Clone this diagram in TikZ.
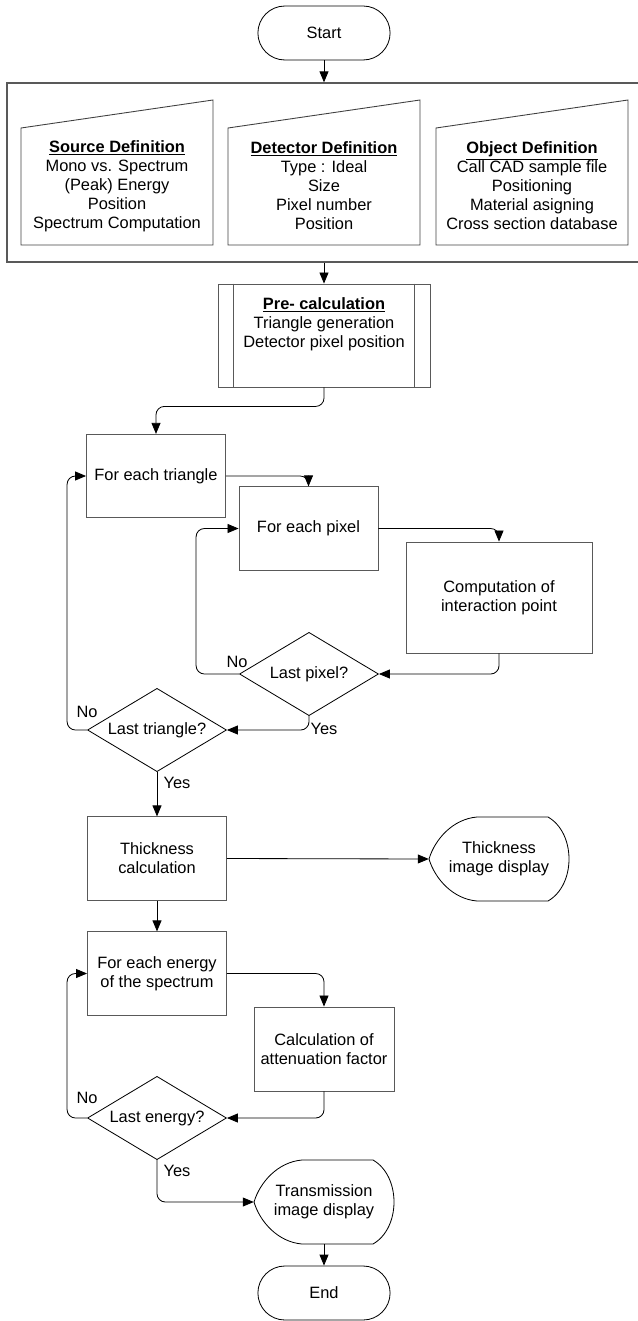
\documentclass[tikz,border=0pt]{standalone}
\usepackage{fontspec}
\setmainfont{Liberation Sans}
\usetikzlibrary{shapes.geometric,shapes.misc,arrows.meta,calc}

\tikzset{
  base/.style={font=\fontsize{14}{16.2}\selectfont, align=center},
  term/.style={base, draw, rounded rectangle, minimum width=4.2cm, minimum height=1.62cm, line width=0.7pt},
  proc/.style={base, draw=black!65, line width=0.75pt, minimum width=4.17cm, minimum height=2.5cm},
  decision/.style={base, draw, diamond, aspect=1.68, inner sep=0pt, minimum width=4.17cm, minimum height=2.5cm, line width=0.7pt},
  disp/.style={base, minimum width=4.2cm, minimum height=2.52cm},
  txt/.style={base, inner sep=0pt},
  lbl/.style={base, inner sep=0pt},
  arr/.style={-{Triangle[length=0.33cm,width=0.27cm]}, line width=0.7pt, rounded corners=0.25cm},
}
\newcommand{\dispshape}[1]{%
  \draw[line width=0.7pt, shift={(#1.center)}] (-22,-42) -- (49,-42)
    .. controls (77,-26) and (77,26) .. (49,42) -- (-22,42)
    .. controls (-46,40) and (-64,20) .. (-70,0)
    .. controls (-64,-20) and (-46,-40) .. cycle;}

\begin{document}
\begin{tikzpicture}[x=0.03cm, y=-0.03cm]
\useasboundingbox (0,0) rectangle (637,1321);

% start and definitions
\node[term] (start) at (324,33) {Start};
\node[draw=black!65, line width=1.1pt, minimum width=19.14cm, minimum height=5.37cm] (inputs) at (326,172.5) {};
\foreach \xl in {21,228,436}
  \draw[draw=black!75, line width=0.75pt] (\xl,128) -- ++(192,-28) -- ++(0,145) -- ++(-192,0) -- cycle;
\node[txt] (source) at (117,186) {\underline{\textbf{Source Definition}}\\Mono vs. Spectrum\\(Peak) Energy\\Position\\Spectrum Computation};
\node[txt] (detector) at (324,186) {\underline{\textbf{Detector Definition}}\\Type : Ideal\\Size\\Pixel number\\Position};
\node[txt] (object) at (532,186) {\underline{\textbf{Object Definition}}\\Call CAD sample file\\Positioning\\Material asigning\\Cross section database};

% pre-calculation
\node[proc, minimum width=6.36cm, minimum height=3.09cm] (precalc) at (324,335.5) {};
\draw[draw=black!65, line width=0.75pt] ($(precalc.north west)+(16,0)$) -- ($(precalc.south west)+(16,0)$);
\draw[draw=black!65, line width=0.75pt] ($(precalc.north east)+(-16,0)$) -- ($(precalc.south east)+(-16,0)$);
\node[txt] (precalcT) at (324,324) {\underline{\textbf{Pre- calculation}}\\Triangle generation\\Detector pixel position};

% triangle and pixel loops
\node[proc] (ftri) at (156,476) {For each triangle};
\node[proc] (fpix) at (308.5,528.5) {For each pixel};
\node[proc, minimum width=5.58cm, minimum height=3.33cm] (comp) at (499,597.5) {Computation of\\interaction point};
\node[decision] (lpix) at (309,674) {Last pixel?};
\node[decision] (ltri) at (157,730) {Last triangle?};

\node[lbl] (nopix) at (237,662) {No};
\node[lbl] (yespix) at (324,729) {Yes};
\node[lbl] (notri) at (87,712) {No};
\node[lbl] (yestri) at (177,783) {Yes};

% thickness
\node[proc] (thick) at (157,858.5) {Thickness\\calculation};
\node[disp] (tdisp) at (499,859) {Thickness\\image display};
\dispshape{tdisp}

% energy loop
\node[proc] (energy) at (157,973.5) {For each energy\\of the spectrum};
\node[proc, minimum width=4.2cm, minimum height=2.52cm] (atten) at (324,1049) {Calculation of\\attenuation factor};
\node[decision] (lene) at (157,1118) {Last energy?};
\node[lbl] (noene) at (87,1098) {No};
\node[lbl] (yesene) at (177,1171) {Yes};

\node[disp] (trans) at (324,1202) {Transmission\\image display};
\dispshape{trans}
\node[term] (end) at (324,1293) {End};

% connectors
\draw[arr] (start.south) -- (start.south |- inputs.north);
\draw[arr] (precalc.north |- inputs.south) -- (precalc.north);
\draw[arr] (precalc.south) -- ++(0,19) -| (ftri.north);
\draw[arr] (ftri.east) -| (fpix.north);
\draw[arr] (fpix.east) -| (comp.north);
\draw[arr] (comp.south) |- (lpix.east);
\draw[arr] (lpix.west) -- ++(-43,0) |- (fpix.west);
\draw[arr] (lpix.south) |- (ltri.east);
\draw[arr] (ltri.west) -- ++(-20,0) |- (ftri.west);
\draw[arr] (ltri.south) -- (thick.north);
\draw[arr] (thick.east) -- (tdisp.west);
\draw[arr] (thick.south) -- (energy.north);
\draw[arr] (energy.east) -| (atten.north);
\draw[arr] (atten.south) |- (lene.east);
\draw[arr] (lene.west) -- ++(-20,0) |- (energy.west);
\draw[arr] (lene.south) |- (trans.west);
\draw[arr] (trans.south) -- (end.north);

\end{tikzpicture}
\end{document}
